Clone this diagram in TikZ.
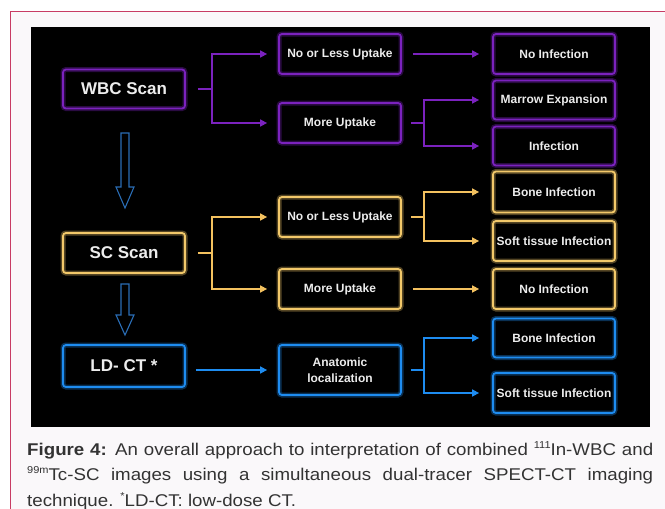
\documentclass[tikz,border=0pt]{standalone}
\usepackage{fontspec}
\setmainfont{Liberation Sans}
\newfontfamily\capfont[FakeStretch=1.1]{Liberation Sans}
\usetikzlibrary{arrows.meta,calc}
\definecolor{purp}{HTML}{7B22BE}
\definecolor{gold}{HTML}{F2C86A}
\definecolor{blu}{HTML}{1E8CF0}
\definecolor{framecol}{HTML}{C83C64}
\definecolor{framebg}{HTML}{FAF8FA}
\definecolor{capgray}{HTML}{333333}
\definecolor{hollowblue}{HTML}{2A6DB5}
\definecolor{boxtext}{HTML}{ECECEC}
\newcommand{\mysup}[1]{\raisebox{0.42em}{\fontsize{10}{10}\selectfont #1}}
\begin{document}
\begin{tikzpicture}[x=1pt,y=-1pt,
  box/.style={rounded corners=3pt, line width=1.8pt, minimum width=122pt, minimum height=40pt,
    inner sep=0pt, text=boxtext, font=\bfseries\fontsize{12}{16}\selectfont, align=center},
  bigbox/.style={box, font=\bfseries\fontsize{17}{20}\selectfont},
  pcol/.style={draw=purp, preaction={draw=purp, line width=5pt, opacity=0.35}},
  ycol/.style={draw=gold, preaction={draw=gold, line width=5pt, opacity=0.35}},
  bcol/.style={draw=blu, preaction={draw=blu, line width=5pt, opacity=0.35}},
  pline/.style={draw=purp, line width=1.6pt},
  yline/.style={draw=gold!90!orange, line width=1.6pt},
  bline/.style={draw=blu, line width=1.6pt},
  tip/.style={-{Triangle[length=7pt,width=7pt]}},
  hollow/.style={draw=hollowblue, line width=1.1pt, line join=miter}
]
\useasboundingbox (0,0) rectangle (665,509);
% frame and background
\fill[white] (0,0) rectangle (665,509);
\fill[framebg] (10,11) rectangle (665,509);
\draw[framecol, line width=1pt] (665,11) -- (10,11) -- (10,509);
\fill[black] (31,27) rectangle (650,427);

% purple level
\node[bigbox, pcol, minimum height=39pt] (WBC) at (124,89) {WBC Scan};
\node[box, pcol] (Pnl) at (340,54) {No or Less Uptake};
\node[box, pcol] (Pmu) at (340,123) {More Uptake};
\node[box, pcol] (Pni) at (554,54) {No Infection};
\node[box, pcol, minimum height=39pt] (Pme) at (554,100) {Marrow Expansion};
\node[box, pcol, minimum height=39pt] (Pinf) at (554,146) {Infection};

% yellow level
\node[bigbox, ycol] (SC) at (124,253) {SC Scan};
\node[box, ycol] (Ynl) at (340,217) {No or Less Uptake};
\node[box, ycol] (Ymu) at (340,289) {More Uptake};
\node[box, ycol, minimum height=41pt] (Ybone) at (554,192) {Bone Infection};
\node[box, ycol] (Ysoft) at (554,241) {Soft tissue Infection};
\node[box, ycol] (Yni) at (554,289) {No Infection};

% blue level
\node[bigbox, bcol, minimum height=42pt] (LD) at (124,366) {LD- CT *};
\node[box, bcol, minimum height=50pt] (Anat) at (340,370) {Anatomic\\localization};
\node[box, bcol, minimum height=39pt] (Bbone) at (554,338) {Bone Infection};
\node[box, bcol] (Bsoft) at (554,393) {Soft tissue Infection};

% purple connectors
\coordinate (wb) at (212,89);
\draw[pline, shorten <=12pt] (WBC.east) -- (wb);
\draw[pline, tip, shorten >=11pt] (wb) |- (Pnl);
\draw[pline, tip, shorten >=11pt] (wb) |- (Pmu);
\draw[pline, tip, shorten <=11pt, shorten >=13pt] (Pnl) -- (Pni);
\coordinate (mb) at (424,123);
\draw[pline, shorten <=9pt] (Pmu.east) -- (mb);
\draw[pline, tip, shorten >=13pt] (mb) |- (Pme);
\draw[pline, tip, shorten >=13pt] (mb) |- (Pinf);

% yellow connectors
\coordinate (sb) at (212,253);
\draw[yline, shorten <=12pt] (SC.east) -- (sb);
\draw[yline, tip, shorten >=11pt] (sb) |- (Ynl);
\draw[yline, tip, shorten >=11pt] (sb) |- (Ymu);
\coordinate (nb) at (424,217);
\draw[yline, shorten <=9pt] (Ynl.east) -- (nb);
\draw[yline, tip, shorten >=13pt] (nb) |- (Ybone);
\draw[yline, tip, shorten >=13pt] (nb) |- (Ysoft);
\draw[yline, tip, shorten <=11pt, shorten >=13pt] (Ymu) -- (Yni);

% blue connectors
\draw[bline, tip, shorten <=10pt, shorten >=11pt] (LD.east |- Anat.west) -- (Anat.west);
\coordinate (ab) at (424,370);
\draw[bline, shorten <=9pt] (Anat.east) -- (ab);
\draw[bline, tip, shorten >=13pt] (ab) |- (Bbone);
\draw[bline, tip, shorten >=13pt] (ab) |- (Bsoft);

% hollow down arrows
\draw[hollow] (121,133) -- (129,133) -- (129,187) -- (134,187) -- (125,208) -- (116,187) -- (121,187) -- cycle;
\draw[hollow] (121,284) -- (129,284) -- (129,315) -- (134,315) -- (125,335) -- (116,315) -- (121,315) -- cycle;

% caption
\node[anchor=north west, inner sep=0pt, align=left, text=capgray,
      font=\capfont\fontsize{17}{25.5}\selectfont] (cap) at (27,441)
{\makebox[626pt][s]{\textbf{Figure 4:} An overall approach to interpretation of combined \mysup{111}In-WBC and}\\
 \makebox[626pt][s]{\mysup{99m}Tc-SC images using a simultaneous dual-tracer SPECT-CT imaging}\\
 technique. \mysup{*}LD-CT: low-dose CT.};
\end{tikzpicture}
\end{document}
